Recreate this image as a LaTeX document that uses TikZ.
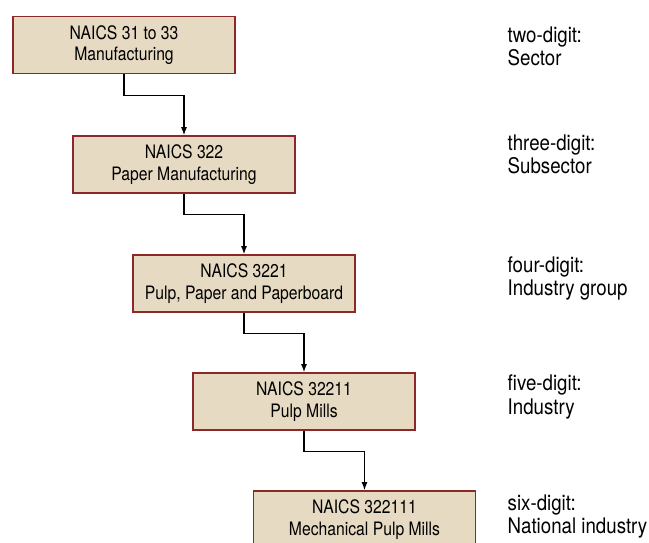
\documentclass[tikz,border=0pt]{standalone}
\usepackage{fontspec}
\setmainfont{TeX Gyre Heros}[FakeStretch=0.85]
\newfontfamily\levelfont{TeX Gyre Heros}[FakeStretch=0.87]
\usepackage{tikz}
\usetikzlibrary{arrows.meta,calc,positioning}

\definecolor{boxfill}{RGB}{231,218,195}
\definecolor{boxline}{RGB}{140,40,40}

\begin{document}
\begin{tikzpicture}[
        x=1pt, y=1pt,
        font=\fontsize{18.5}{21.6}\selectfont,
        box/.style={draw=boxline, line width=1.6pt, fill=boxfill, align=center, minimum width=222pt, minimum height=57pt, inner sep=0pt},
        level/.style={anchor=west, align=left, inner sep=0pt, font=\levelfont\fontsize{21.5}{23.3}\selectfont},
        arrow/.style={-{Latex[length=8pt,width=6pt]}, line width=1.3pt}
    ]
        \useasboundingbox (0,0) rectangle (649,-543);
        % codes, one step per level
        \node[box] (sector) at (124,-45) {NAICS 31 to 33\\Manufacturing};
        \node[box] (subsector) at (184,-164.5) {NAICS 322\\Paper Manufacturing};
        \node[box] (group) at (244,-283.5) {NAICS 3221\\Pulp, Paper and Paperboard};
        \node[box] (industry) at (304,-401.5) {NAICS 32211\\Pulp Mills};
        \node[box] (national) at (364.5,-519.5) {NAICS 322111\\Mechanical Pulp Mills};
        % level names on the right
        \node[level] (l2) at (507.5,-46.5) {two-digit:\\Sector};
        \node[level] (l3) at (507.5,-154.5) {three-digit:\\Subsector};
        \node[level] (l4) at (507.5,-278.5) {four-digit:\\Industry group};
        \node[level] (l5) at (507.5,-397) {five-digit:\\Industry};
        \node[level] (l6) at (507.5,-516.5) {six-digit:\\National industry};
        \draw[arrow] (sector.south) -- ++(0,-21) -| (subsector.north);
        \draw[arrow] (subsector.south) -- ++(0,-21) -| (group.north);
        \draw[arrow] (group.south) -- ++(0,-21) -| (industry.north);
        \draw[arrow] (industry.south) -- ++(0,-21) -| (national.north);
    \end{tikzpicture}
\end{document}
